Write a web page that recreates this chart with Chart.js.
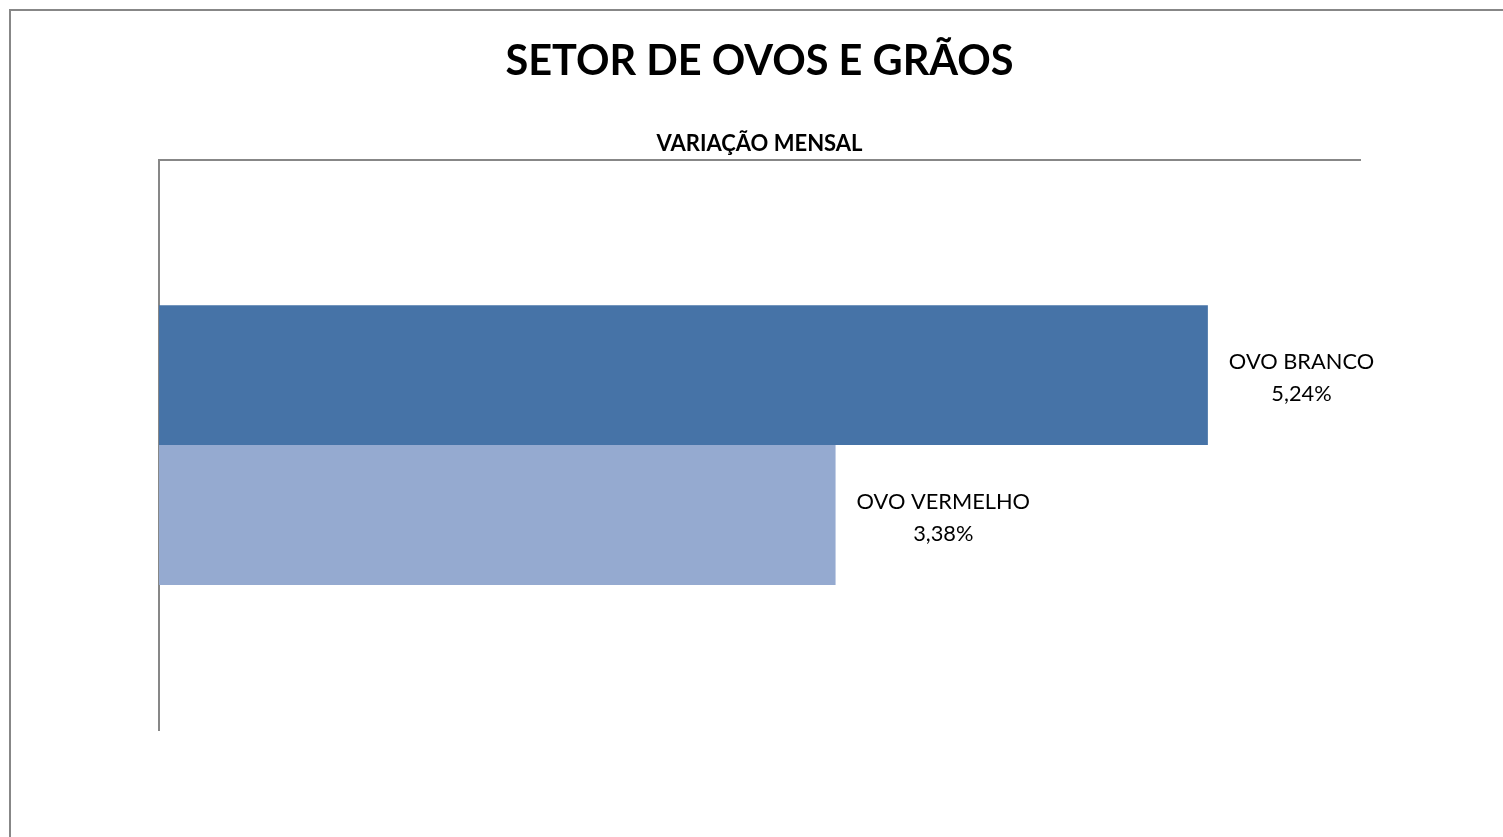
<!DOCTYPE html>
<html>
<head>
<meta charset="utf-8">
<script src="https://cdn.jsdelivr.net/npm/chart.js@4"></script>
<style>
  html, body { margin: 0; padding: 0; background: #fff; overflow: hidden; }
  .frame { position: absolute; left: 9px; top: 9px; width: 2000px; height: 2000px; border: 2px solid #878787; }
  .wrap { position: absolute; left: 0; top: 0; width: 1503px; height: 837px; }
</style>
</head>
<body>
<div class="frame"></div>
<div class="wrap"><canvas id="myChart" width="1503" height="837"></canvas></div>
<script>
const seriesNames = ['OVO BRANCO', 'OVO VERMELHO'];
const seriesValues = [5.24, 3.38];
const seriesColors = ['#4673A7', '#95AAD0'];
const categories = [''];
const FONT = 'Lato, "Open Sans", sans-serif';

// labels to the right of each bar: name + value, centered as a block
const barLabels = {
  id: 'barLabels',
  afterDatasetsDraw(chart) {
    const ctx = chart.ctx;
    ctx.save();
    ctx.font = '21.8px ' + FONT;
    ctx.fillStyle = '#000';
    ctx.textAlign = 'center';
    ctx.textBaseline = 'middle';
    chart.data.datasets.forEach((ds, i) => {
      const bar = chart.getDatasetMeta(i).data[0];
      const lines = [ds.label, ds.data[0].toFixed(2).replace('.', ',') + '%'];
      const w = Math.max(...lines.map(l => ctx.measureText(l).width));
      const cx = bar.x + 21 + w / 2;
      ctx.fillText(lines[0], cx, bar.y - 13);
      ctx.fillText(lines[1], cx, bar.y + 19);
    });
    ctx.restore();
  }
};

const ctx = document.getElementById('myChart');
new Chart(ctx, {
  type: 'bar',
  data: {
    labels: categories,
    datasets: seriesNames.map((name, i) => ({
      label: name,
      data: [seriesValues[i]],
      backgroundColor: seriesColors[i],
      borderWidth: 0,
      categoryPercentage: 0.491,
      barPercentage: 1
    }))
  },
  options: {
    indexAxis: 'y',
    responsive: false,
    animation: false,
    layout: { padding: { left: 159, right: 143, top: 37, bottom: 107 } },
    plugins: {
      legend: { display: false },
      tooltip: { enabled: false },
      title: {
        display: true,
        text: 'SETOR DE OVOS E GRÃOS',
        color: '#000',
        font: { family: FONT, size: 41.5, weight: 'bold' },
        padding: { top: 0, bottom: 44 }
      },
      subtitle: {
        display: true,
        text: 'VARIAÇÃO MENSAL',
        color: '#000',
        font: { family: FONT, size: 22, weight: 'bold' },
        padding: { top: 0, bottom: 3 }
      }
    },
    scales: {
      x: {
        position: 'top',
        min: 0,
        max: 6,
        grid: { display: false, drawTicks: false },
        ticks: { display: false },
        border: { color: '#878787', width: 2 }
      },
      y: {
        grid: { display: false, drawTicks: false },
        ticks: { display: false },
        border: { color: '#878787', width: 2 }
      }
    }
  },
  plugins: [barLabels]
});
</script>
</body>
</html>
